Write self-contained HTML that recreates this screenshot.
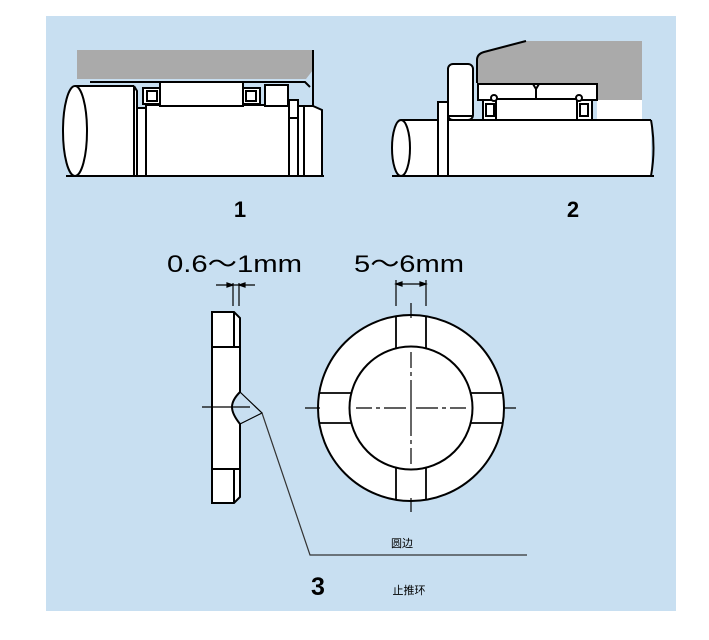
<!DOCTYPE html>
<html><head><meta charset="utf-8"><style>
html,body{margin:0;padding:0;background:#fff;}
svg{display:block;}
text{font-family:"Liberation Sans","Noto Sans CJK SC",sans-serif;}
</style></head><body>
<svg width="709" height="640" viewBox="0 0 709 640" xmlns="http://www.w3.org/2000/svg">
<rect x="46" y="16" width="630" height="595" fill="#c8dff1"/>
<g stroke="#000" stroke-width="2" fill="#fff">
<!-- Drawing 1 -->
<path d="M77 50 H313 V70 L306 79 H77 Z" fill="#aaa" stroke="none"/>
<line x1="313" y1="50" x2="313" y2="106"/>
<path d="M75 86 H134 L137 91 V176 H75 Z" stroke="none"/>
<ellipse cx="75" cy="131" rx="12" ry="45"/>
<line x1="75" y1="86" x2="134" y2="86"/>
<path d="M134 86 L137 91 V176" fill="none"/>
<line x1="134" y1="86" x2="134" y2="176"/>
<path d="M90 82 H305 L310 87" fill="none"/>
<path d="M137 108 H146 V105 H289 V176 H137 Z"/>
<line x1="146" y1="105" x2="146" y2="176"/>
<rect x="160" y="82" width="83" height="24"/>
<rect x="143" y="88" width="17" height="16"/>
<rect x="147" y="91" width="10" height="10"/>
<rect x="243" y="88" width="17" height="16"/>
<rect x="246" y="91" width="10" height="10"/>
<rect x="265" y="85" width="23" height="21"/>
<rect x="289" y="100" width="9" height="18"/>
<rect x="289" y="118" width="9" height="58"/>
<path d="M298 106 H313 L322 110 V176 H298 Z"/>
<line x1="304" y1="106" x2="304" y2="176"/>
<line x1="66" y1="176" x2="324" y2="176"/>
<!-- Drawing 2 -->
<path d="M477 83 V60 Q477 54 484 52 L526 41 H642 V100 H597 V83 Z" fill="#aaa" stroke="none"/>
<path d="M477 83 V60 Q477 54 484 52 L526 41" fill="none"/>
<rect x="597" y="100" width="45" height="20" stroke="none"/>
<rect x="478" y="84" width="119" height="16"/>
<path d="M533 84 L536 89 V98 M539 84 L536 89" fill="none"/>
<path d="M401 120 H651 V176 H401 Z" stroke="none"/>
<line x1="401" y1="120" x2="651" y2="120"/>
<ellipse cx="401" cy="148" rx="9" ry="28"/>
<path d="M651 120 Q656 148 651 176" fill="none"/>
<rect x="438" y="102" width="10" height="74"/>
<rect x="448" y="64" width="25" height="56" rx="5"/>
<line x1="448" y1="116" x2="473" y2="116"/>
<rect x="483" y="100" width="13" height="20"/>
<rect x="486" y="104" width="8" height="12"/>
<rect x="496" y="99" width="81" height="21"/>
<rect x="577" y="100" width="15" height="20"/>
<rect x="580" y="104" width="8" height="12"/>
<circle cx="494" cy="98" r="3"/>
<circle cx="579" cy="98" r="3"/>
<line x1="392" y1="176" x2="654" y2="176"/>
<!-- Drawing 3 side -->
<path d="M212 312 H234 L240 318 V392 Q232 400 232 407 Q232 414 240 424 V497 L234 503 H212 Z"/>
<line x1="234" y1="312" x2="234" y2="347"/>
<line x1="234" y1="469" x2="234" y2="503"/>
<line x1="212" y1="347" x2="240" y2="347"/>
<line x1="212" y1="469" x2="240" y2="469"/>
</g>
<g stroke="#000" stroke-width="1.2" fill="none">
<line x1="202" y1="407" x2="250" y2="407"/>
<path d="M240 392 L262 413 L240 424"/>
<path d="M262 413 L310 555 H527" stroke="#333"/>
<line x1="233" y1="283" x2="233" y2="306"/>
<line x1="239" y1="283" x2="239" y2="306"/>
<line x1="216" y1="285" x2="255" y2="285"/>
<path d="M227 283 L233 285 L227 287 Z M245 283 L239 285 L245 287 Z" fill="#000"/>
</g>
<!-- Ring front -->
<g stroke="#000" stroke-width="2" fill="#fff">
<circle cx="411" cy="408" r="93"/>
<g stroke-width="1.8">
<line x1="396" y1="316" x2="396" y2="348"/><line x1="426" y1="316" x2="426" y2="348"/>
<line x1="396" y1="468" x2="396" y2="500"/><line x1="426" y1="468" x2="426" y2="500"/>
<line x1="319" y1="393" x2="351" y2="393"/><line x1="319" y1="423" x2="351" y2="423"/>
<line x1="471" y1="393" x2="503" y2="393"/><line x1="471" y1="423" x2="503" y2="423"/>
</g>
<circle cx="411" cy="408" r="61.5"/>
</g>
<g stroke="#000" stroke-width="1.2" fill="none">
<path d="M305 408 H320 M503 408 H516 M356 408 H372 M376 408 H380 M384 408 H406 M416 408 H438 M442 408 H446 M450 408 H466"/>
<path d="M411 303 V318 M411 498 V512 M411 352 V368 M411 372 V376 M411 380 V436 M411 440 V444 M411 448 V464"/>
<line x1="396" y1="280" x2="396" y2="306"/>
<line x1="426" y1="280" x2="426" y2="306"/>
<line x1="396" y1="284" x2="426" y2="284"/>
<path d="M402 282 L396 284 L402 286 Z M420 282 L426 284 L420 286 Z" fill="#000"/>
</g>
<g fill="#000">
<text x="240" y="217" font-size="22" font-weight="bold" text-anchor="middle">1</text>
<text x="573" y="217" font-size="22" font-weight="bold" text-anchor="middle">2</text>
<text x="167" y="272" font-size="24" textLength="135" lengthAdjust="spacingAndGlyphs">0.6～1mm</text>
<text x="354" y="272" font-size="24" textLength="110" lengthAdjust="spacingAndGlyphs">5～6mm</text>
<text x="318" y="595" font-size="25" font-weight="bold" text-anchor="middle">3</text>
<text x="402" y="547" font-size="11" text-anchor="middle">圆边</text>
<text x="409" y="594" font-size="11" text-anchor="middle">止推环</text>
</g>
</svg>
</body></html>
